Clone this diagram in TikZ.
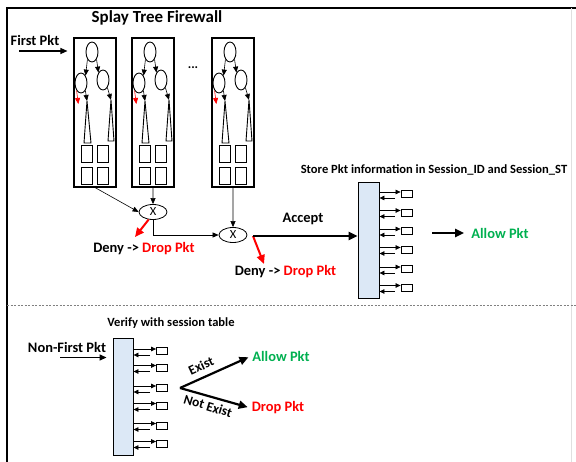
\documentclass[tikz,border=0pt]{standalone}
\usepackage{fontspec}
\setmainfont{Carlito}
\usetikzlibrary{arrows.meta, shapes.geometric, calc}

% Define colors
\colorlet{denyred}{red}
\definecolor{allowgreen}{RGB}{0,176,80}
\definecolor{tablefill}{RGB}{220,232,246}

\newcommand{\lblfont}{\fontsize{14.5}{16}\selectfont\bfseries}
\newcommand{\notefont}{\fontsize{12.6}{14}\selectfont\bfseries}

\begin{document}
\begin{tikzpicture}[x=1bp, y=-1bp,
  lbl/.style={font=\lblfont, inner sep=1bp},
  note/.style={font=\notefont, inner sep=1bp},
  tilted/.style={font=\fontsize{13.5}{15}\selectfont\bfseries, inner sep=0pt},
  treebox/.style={draw, line width=1.1bp, minimum width=42bp, minimum height=149bp, inner sep=0pt},
  leaf/.style={draw, ellipse, line width=0.9bp, minimum width=12bp, minimum height=20bp, inner sep=0pt},
  slot/.style={draw, line width=1bp, minimum width=11bp, minimum height=17bp, inner sep=0pt},
  gate/.style={draw, ellipse, line width=0.8bp, minimum width=28bp, minimum height=15bp, inner sep=0pt, font=\fontsize{12.5}{12}\selectfont},
  tablebox/.style={draw, fill=tablefill, line width=0.9bp, inner sep=0pt},
  cell/.style={draw, line width=0.8bp, minimum width=11bp, minimum height=7bp, inner sep=0pt},
  feed/.style={-{Triangle[length=6bp,width=5bp]}, line width=0.6bp},
  stub/.style={-{Triangle[length=5bp,width=4.5bp]}, line width=0.7bp},
  entry/.style={-{Triangle[length=7bp,width=6bp]}, line width=1.3bp},
  heavy/.style={-{Triangle[length=9bp,width=8bp]}, line width=2.2bp},
]

\useasboundingbox (0,0) rectangle (576,462);

% Frame and separator
\draw[line width=1.6bp] (7,462) -- (7,8) -- (576,8);
\draw[black!12, line width=0.8bp] (571,8) -- (571,462);
\draw[gray, line width=0.6bp, dash pattern=on 2bp off 1.5bp] (7,305) -- (576,305);

\node[font=\fontsize{17}{19}\selectfont\bfseries] (title) at (157,18) {Splay Tree Firewall};

% Draw the splay trees
\foreach \t/\xs in {1/74, 2/132, 3/212} {
  \begin{scope}[xshift=\xs bp]
    \node[treebox] (tree\t) at (21,112.5) {};
    \node[leaf] (root\t) at (18,52) {};
    \node[leaf] (left\t) at (7,83) {};
    \node[leaf] (right\t) at (29,80) {};
    \coordinate (lapex\t) at (13,101);
    \coordinate (rapex\t) at (37,100);
    \coordinate (redtip\t) at (4.3,104);
    \draw[line width=0.9bp] (lapex\t) -- (10,143) -- (17,143) -- cycle;
    \draw[line width=0.9bp] (rapex\t) -- (34,141) -- (40,141) -- cycle;
    \draw[feed] (root\t.south west) -- (left\t.north east);
    \draw[feed] (root\t.south east) -- (right\t.north west);
    \draw[feed, denyred] (left\t.240) -- (redtip\t);
    \draw[feed] (left\t.300) -- (lapex\t);
    \draw[feed] (right\t.300) -- (rapex\t);
    \foreach \sx [count=\c] in {12.5, 28.5}
      \foreach \sy [count=\r] in {154.5, 176.5}
        \node[slot] (slot\t\c\r) at (\sx,\sy) {};
  \end{scope}
}
\node[font=\fontsize{13}{13}\selectfont\bfseries] (dots) at (193,68) {...};

% First packet input
\node[lbl] (first) at (35,40) {First Pkt};
\coordinate (firstin) at (19,51);
\draw[entry, shorten >=6bp] (firstin) -- (firstin -| tree1.west);

% Combine the tree results
\node[gate] (gate1) at (153,212) {X};
\node[gate] (gate2) at (233,235) {X};
\draw[feed] (tree1.south) -- (gate1.west);
\draw[feed] (tree2.south) -- (gate1.north);
\draw[feed] (gate1.south) |- (gate2.west);
\draw[feed] (tree3.south) -- (gate2.north);

% Session table (first packet)
\node[tablebox, minimum width=21bp, minimum height=116bp] (store) at (368.5,240) {};
\node[note] (storetxt) at (434,170) {Store Pkt information in Session\_ID and Session\_ST};
\foreach \r [count=\i] in {194,212.5,231,249.5,269,287.5} {
  \node[cell] (scell\i) at (406.5,\r) {};
  \coordinate (sedge\i) at (store.east |- scell\i.west);
  \draw[stub] ($(sedge\i)+(0,-2)$) -- ($(scell\i.west)+(0,-2)$);
  \draw[stub] ($(scell\i.west)+(-6,4)$) -- ($(sedge\i)+(0,4)$);
}

% Deny and accept
\coordinate (deny1tip) at (135,237);
\draw[heavy, denyred, line width=2bp] (gate1.240) -- (deny1tip);
\node[lbl] (deny1) at (144,249) {Deny -> \textcolor{denyred}{Drop Pkt}};
\coordinate (split) at (253,236);
\coordinate (deny2tip) at (264,264);
\draw[heavy, denyred, line width=2bp] (split) -- (deny2tip);
\node[lbl] (deny2) at (285.5,272) {Deny -> \textcolor{denyred}{Drop Pkt}};
\draw[heavy] (split) -- (split -| store.west);
\node[lbl] (accept) at (303,219) {Accept};

\node[lbl, text=allowgreen] (allow1) at (500,233) {Allow Pkt};
\coordinate (allowin) at (432,233);
\draw[heavy, shorten >=6bp] (allowin) -- (allow1.west);

% Non-first packets
\node[note] (verifytxt) at (171,323) {Verify with session table};
\node[tablebox, minimum width=20bp, minimum height=117bp] (verify) at (123,396.5) {};
\node[lbl] (nonfirst) at (67,347) {Non-First Pkt};
\coordinate (nonfirstin) at (60,357.5);
\draw[entry, shorten >=6bp] (nonfirstin) -- (nonfirstin -| verify.west);
\foreach \r [count=\i] in {351,367.5,388,405.5,425.5,443.5} {
  \node[cell] (vcell\i) at (162,\r) {};
  \coordinate (vedge\i) at (verify.east |- vcell\i.west);
  \draw[stub] ($(vedge\i)+(0,-2)$) -- ($(vcell\i.west)+(0,-2)$);
  \draw[stub] ($(vcell\i.west)+(-6,4)$) -- ($(vedge\i)+(0,4)$);
}

\coordinate (fork) at (180,388);
\node[lbl, text=allowgreen] (allow2) at (281,356) {Allow Pkt};
\node[lbl, text=denyred] (drop2) at (278,408) {Drop Pkt};
\draw[heavy, shorten >=3bp] (fork) -- (allow2.west);
\draw[heavy, shorten >=3bp] (fork) -- (drop2.west);
\node[tilted, rotate=25] (exist) at (201,366) {Exist};
\node[tilted, rotate=-17] (notexist) at (208,406) {Not Exist};

\end{tikzpicture}
\end{document}
